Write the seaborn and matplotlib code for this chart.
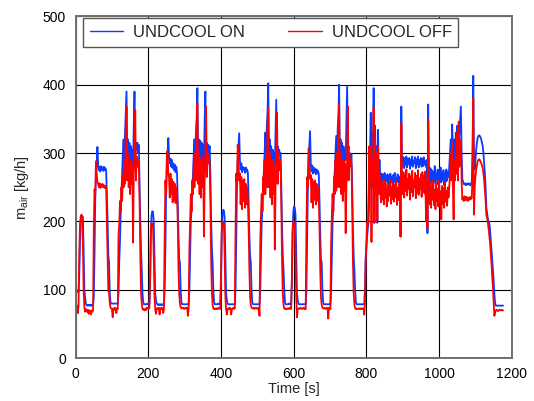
import numpy as np
import pandas as pd
import matplotlib
matplotlib.use("Agg")
import matplotlib.pyplot as plt
import seaborn as sns

# sample spacing of the logged signal [s] and start of each NEDC segment
STEP = 2
seg_start = [0, 195, 390, 585, 780]
labels = ["UNDCOOL ON", "UNDCOOL OFF"]

# air mass flow [kg/h], UNDCOOL ON (blue)
on_c1 = [98, 97, 98, 97, 98, 120, 170, 200, 206, 208, 207, 160, 100, 90, 80,
         78, 77, 78, 77, 78, 77, 78, 77, 78, 77, 90, 150, 230, 270, 285, 309,
         282, 275, 280, 273, 281, 276, 279, 274, 280, 275, 278, 274,
         240, 200, 150, 140, 95, 82, 80, 80, 80, 80, 80, 80, 80, 80, 80, 80,
         95, 140, 170, 210, 240, 270,
         300, 320, 285, 330, 360, 390, 300, 320, 280, 315, 285, 310, 275, 305,
         280, 340, 390, 300, 315, 305, 315, 300, 312,
         250, 200, 160, 130, 95, 82, 79, 79, 79, 79]
on_c2 = [79, 80, 79, 80, 79, 110, 180, 210, 215, 214, 200, 150, 95, 85, 80,
         79, 78, 79, 78, 79, 78, 79, 78, 79, 78, 100, 160, 240, 280, 300, 322,
         295, 285, 292, 280, 290, 278, 285, 275, 283, 272, 280, 271,
         230, 180, 145, 140, 100, 82, 79, 79, 79, 79, 79, 79, 79, 79, 79, 79,
         100, 150, 200, 217, 250, 270,
         300, 320, 290, 330, 350, 395, 300, 320, 290, 318, 295, 315, 290, 312,
         285, 345, 390, 305, 315, 300, 312, 305, 310,
         260, 200, 159, 140, 100, 82, 79, 79, 79, 79]
on_c3 = [79, 80, 79, 80, 79, 110, 180, 212, 217, 216, 205, 150, 95, 85, 80,
         79, 79, 79, 79, 79, 79, 79, 79, 79, 79, 100, 170, 250, 290, 310, 329,
         290, 276, 285, 272, 280, 276, 278, 271, 279, 273, 276, 271,
         230, 180, 150, 140, 100, 82, 79, 79, 79, 79, 79, 79, 79, 79, 79, 79,
         100, 150, 200, 220, 255, 275,
         300, 330, 290, 340, 360, 402, 295, 320, 285, 310, 280, 305, 285, 300,
         280, 330, 378, 300, 310, 295, 305, 298, 300,
         250, 190, 150, 130, 100, 82, 79, 79, 79, 79]
on_c4 = [79, 80, 79, 80, 79, 110, 185, 215, 222, 220, 210, 150, 95, 85, 80,
         79, 79, 79, 79, 79, 79, 79, 79, 79, 79, 100, 170, 250, 290, 310, 332,
         285, 273, 282, 270, 279, 272, 277, 269, 276, 271, 274, 269,
         230, 180, 145, 140, 100, 82, 79, 79, 79, 79, 79, 79, 79, 79, 79, 79,
         100, 150, 200, 220, 255, 275,
         300, 325, 280, 335, 355, 400, 290, 320, 280, 315, 285, 310, 280, 305,
         290, 340, 397, 300, 310, 290, 300, 295, 298,
         250, 190, 150, 130, 100, 82, 79, 79, 79, 79]
on_eudc = [79, 79, 79, 79, 79, 79, 79, 79,
           100, 145, 160, 178, 190, 200, 230,
           300, 359, 250, 330, 290, 395, 198, 340, 270, 310, 198, 334, 260, 290,
           265, 258, 270, 256, 268, 260, 271, 257, 266, 259, 269, 255, 267, 261,
           270, 258, 265, 257, 268, 260, 271, 256, 264, 259, 269, 257, 266, 260,
           178, 368,
           290, 280, 294, 278, 292, 283, 295, 279, 291, 284, 293, 277, 290, 282,
           295, 280, 289, 285, 294, 278, 291, 283, 295, 279, 290, 284, 293, 280,
           292, 281, 294, 283, 288, 280, 290,
           183, 371,
           270, 255, 278, 258, 275, 252, 272, 260, 281, 256, 270, 262, 276, 254,
           273, 259, 279, 257, 271, 261, 275, 253, 270, 258, 276, 260, 272, 265,
           280, 300, 320, 290, 342, 300, 280, 320, 290, 330, 300, 340, 300, 310,
           330, 350, 368, 300,
           262, 258, 255, 254, 256, 253, 255, 254, 256, 254, 255, 253, 256, 258,
           300, 413, 290,
           276, 290, 305, 315, 322, 325, 326, 325, 323, 320, 315, 310,
           300, 285, 270, 250, 220, 212, 205, 200, 198, 190, 175, 160, 145, 128,
           115, 95, 81,
           77, 77, 77, 77, 77, 77, 77, 77, 77, 77, 77]

# air mass flow [kg/h], UNDCOOL OFF (red)
off_c1 = [78, 70, 77, 66, 76, 150, 195, 208, 210, 205, 170, 100, 75, 68, 72,
          70, 68, 71, 65, 70, 69, 64, 70, 68, 70, 190, 247, 240, 288, 270, 258,
          255, 250, 256, 249, 254, 251, 255, 250, 253, 249, 252, 250,
          200, 150, 98, 96, 80, 74, 73, 72, 60, 73, 71, 74, 72, 66, 73, 72,
          180, 195, 230, 215, 250, 230,
          270, 250, 290, 255, 330, 368, 260, 300, 250, 280, 240, 290, 255, 285,
          169, 270, 300, 363, 260, 295, 280, 290, 285,
          230, 150, 95, 80, 72, 71, 72, 70, 72, 71]
off_c2 = [74, 73, 74, 72, 74, 120, 190, 198, 196, 190, 150, 90, 72, 65, 73,
          73, 72, 74, 64, 73, 72, 74, 73, 66, 72, 180, 260, 240, 300, 303, 270,
          265, 235, 270, 240, 262, 228, 258, 232, 255, 227, 250, 235,
          200, 130, 95, 80, 75, 73, 74, 73, 74, 72, 73, 74, 73, 74, 62, 73,
          160, 200, 240, 215, 260, 240,
          280, 250, 300, 260, 340, 373, 255, 300, 240, 290, 235, 295, 250, 285,
          178, 260, 300, 368, 265, 300, 285, 295, 282,
          220, 140, 95, 78, 73, 72, 73, 72, 73, 72]
off_c3 = [73, 72, 74, 73, 72, 120, 185, 200, 199, 195, 150, 90, 72, 64, 72,
          73, 72, 74, 73, 64, 72, 73, 74, 72, 73, 190, 270, 250, 312, 290, 260,
          270, 225, 265, 218, 260, 230, 262, 220, 255, 225, 250, 230,
          190, 130, 90, 78, 74, 73, 73, 74, 72, 73, 74, 73, 72, 74, 73, 62,
          170, 210, 240, 215, 265, 240,
          290, 240, 300, 250, 340, 366, 250, 300, 235, 280, 225, 290, 240, 285,
          159, 250, 290, 359, 255, 300, 275, 290, 280,
          220, 140, 95, 78, 73, 72, 73, 72, 72, 73]
off_c4 = [73, 72, 74, 73, 72, 120, 185, 200, 199, 195, 150, 90, 60, 72, 73,
          73, 72, 74, 73, 72, 73, 74, 72, 73, 72, 190, 265, 250, 307, 285, 262,
          268, 228, 262, 220, 258, 232, 260, 225, 255, 230, 250, 235,
          190, 130, 90, 78, 74, 73, 73, 74, 72, 73, 74, 73, 58, 74, 73, 72,
          170, 210, 240, 215, 265, 240,
          290, 245, 300, 250, 345, 371, 250, 300, 240, 285, 230, 290, 245, 285,
          183, 255, 290, 368, 260, 300, 280, 290, 282,
          220, 140, 95, 78, 73, 72, 73, 72, 72, 73]
off_eudc = [73, 72, 73, 72, 73, 72, 73, 64,
            80, 145, 170, 200, 195, 240, 310,
            260, 310, 170, 290, 250, 366, 198, 320, 240, 300, 200, 310, 240, 270,
            250, 228, 258, 232, 255, 225, 260, 235, 248, 222, 256, 230, 252, 238,
            261, 226, 250, 233, 257, 229, 253, 236, 259, 224, 249, 231, 255, 240,
            178, 344,
            265, 240, 272, 235, 268, 245, 276, 238, 262, 248, 270, 232, 266, 243,
            274, 237, 260, 250, 271, 234, 267, 242, 275, 239, 263, 247, 269, 236,
            272, 244, 266, 241, 273, 200, 262,
            190, 349,
            245, 225, 258, 220, 250, 232, 261, 224, 246, 218, 255, 230, 248, 222,
            260, 228, 244, 203, 252, 226, 249, 220, 257, 229, 245, 223, 250, 235,
            250, 270, 300, 260, 315, 250, 203, 290, 260, 300, 270, 330, 260, 346,
            280, 300, 320, 260,
            232, 235, 230, 237, 233, 231, 236, 234, 230, 235, 232, 236, 233, 234,
            280, 380, 210,
            250, 265, 275, 282, 288, 290, 291, 290, 288, 285, 282, 278,
            270, 260, 245, 230, 210, 205, 200, 190, 180, 170, 155, 140, 120, 105,
            85, 62, 66,
            70, 71, 70, 69, 70, 71, 70, 70, 71, 70, 70]


def to_frame(parts, label):
    t, v = [], []
    for start, vals in zip(seg_start, parts):
        t += [start + STEP * i for i in range(len(vals))]
        v += vals
    return pd.DataFrame({"Time": t, "mair": v, "case": label})


df = pd.concat([
    to_frame([on_c1, on_c2, on_c3, on_c4, on_eudc], labels[0]),
    to_frame([off_c1, off_c2, off_c3, off_c4, off_eudc], labels[1]),
], ignore_index=True)

sns.set_theme(style="white")
plt.rcParams["font.family"] = ["Liberation Sans", "DejaVu Sans"]
plt.rcParams["mathtext.fontset"] = "custom"
plt.rcParams["mathtext.rm"] = "Liberation Sans"
plt.rcParams["mathtext.it"] = "Liberation Sans"

fig = plt.figure(figsize=(5.34, 4.01), dpi=100)
ax = fig.add_axes([0.1416, 0.1065, 0.8168, 0.8529])

sns.lineplot(data=df, x="Time", y="mair", hue="case", hue_order=labels,
             palette=["#0a3cff", "#ff0000"], estimator=None, sort=False,
             linewidth=1.3, ax=ax)

ax.set_xlim(0, 1200)
ax.set_ylim(0, 500)
ax.set_xticks(np.arange(0, 1201, 200))
ax.set_yticks(np.arange(0, 501, 100))
ax.grid(True, color="black", linewidth=0.8)
ax.set_axisbelow(True)
for s in ax.spines.values():
    s.set_color("#707070"); s.set_linewidth(1.4)
ax.tick_params(length=0, labelsize=10, colors="black")
ax.tick_params(axis="x", pad=6)
ax.tick_params(axis="y", pad=7)
ax.set_xlabel("Time [s]", fontsize=10.5, labelpad=1)
ax.set_ylabel(r"$\mathrm{m_{air}}$ [kg/h]", fontsize=10.5, labelpad=8)

sns.move_legend(ax, "upper left", bbox_to_anchor=(0.017, 0.994), ncol=2,
                title=None, frameon=True, fancybox=False, framealpha=1,
                edgecolor="#555555", fontsize=12, borderaxespad=0,
                handlelength=2.0, handletextpad=0.6, columnspacing=2.6)
leg = ax.get_legend()
leg.get_frame().set_linewidth(1.0)
for ln in leg.get_lines():
    ln.set_linewidth(1.0)

fig.savefig("out.png", dpi=100)
